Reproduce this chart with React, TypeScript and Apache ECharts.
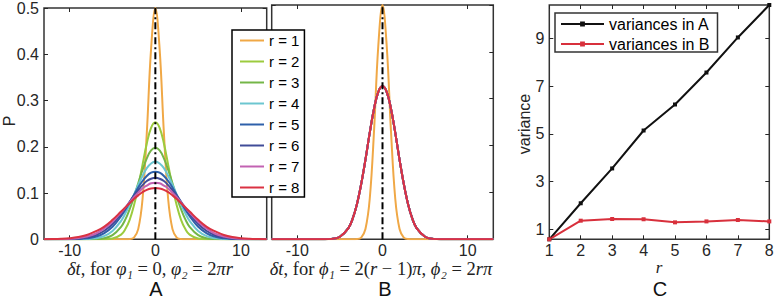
import React, { useEffect, useRef } from "react";
import * as echarts from "echarts";

// δt sample positions (shared by all curves)
const dtValues = [-13, -12, -11, -10, -9, -8, -7, -6, -5, -4, -3.5, -3, -2.5, -2, -1.5, -1, -0.5, 0, 0.5, 1, 1.5, 2, 2.5, 3, 3.5, 4, 5, 6, 7, 8, 9, 10, 11, 12, 13];

// Panel A: P(δt) for r = 1..8
const pA_r1 = [0, 0, 0, 0, 0, 0, 0, 0, 0, 0, 0, 0.0004, 0.0038, 0.022, 0.086, 0.229, 0.411, 0.5, 0.411, 0.229, 0.086, 0.022, 0.0038, 0.0004, 0, 0, 0, 0, 0, 0, 0, 0, 0, 0, 0];
const pA_r2 = [0, 0, 0, 0, 0, 0, 0, 0.0002, 0.0017, 0.01, 0.022, 0.042, 0.073, 0.114, 0.161, 0.207, 0.241, 0.253, 0.241, 0.207, 0.161, 0.114, 0.073, 0.042, 0.022, 0.01, 0.0017, 0.0002, 0, 0, 0, 0, 0, 0, 0];
const pA_r3 = [0, 0, 0, 0, 0, 0.0001, 0.0005, 0.0023, 0.009, 0.027, 0.043, 0.065, 0.091, 0.121, 0.15, 0.175, 0.192, 0.198, 0.192, 0.175, 0.15, 0.121, 0.091, 0.065, 0.043, 0.027, 0.009, 0.0023, 0.0005, 0.0001, 0, 0, 0, 0, 0];
const pA_r4 = [0, 0, 0, 0, 0.0001, 0.0006, 0.0021, 0.0068, 0.018, 0.04, 0.056, 0.075, 0.096, 0.118, 0.137, 0.154, 0.164, 0.168, 0.164, 0.154, 0.137, 0.118, 0.096, 0.075, 0.056, 0.04, 0.018, 0.0068, 0.0021, 0.0006, 0.0001, 0, 0, 0, 0];
const pA_r5 = [0, 0, 0, 0.0002, 0.0006, 0.002, 0.0054, 0.013, 0.027, 0.05, 0.064, 0.08, 0.096, 0.112, 0.126, 0.137, 0.144, 0.146, 0.144, 0.137, 0.126, 0.112, 0.096, 0.08, 0.064, 0.05, 0.027, 0.013, 0.0054, 0.002, 0.0006, 0.0002, 0, 0, 0];
const pA_r6 = [0, 0, 0.0002, 0.0005, 0.0015, 0.0038, 0.0087, 0.018, 0.033, 0.055, 0.067, 0.081, 0.094, 0.106, 0.117, 0.126, 0.131, 0.133, 0.131, 0.126, 0.117, 0.106, 0.094, 0.081, 0.067, 0.055, 0.033, 0.018, 0.0087, 0.0038, 0.0015, 0.0005, 0.0002, 0, 0];
const pA_r7 = [0, 0.0001, 0.0004, 0.0011, 0.0028, 0.0061, 0.012, 0.023, 0.038, 0.058, 0.069, 0.08, 0.091, 0.101, 0.11, 0.116, 0.121, 0.122, 0.121, 0.116, 0.11, 0.101, 0.091, 0.08, 0.069, 0.058, 0.038, 0.023, 0.012, 0.0061, 0.0028, 0.0011, 0.0004, 0.0001, 0];
const pA_r8 = [0.0002, 0.0004, 0.001, 0.0023, 0.0048, 0.0093, 0.017, 0.027, 0.042, 0.06, 0.069, 0.078, 0.087, 0.095, 0.102, 0.107, 0.11, 0.111, 0.11, 0.107, 0.102, 0.095, 0.087, 0.078, 0.069, 0.06, 0.042, 0.027, 0.017, 0.0093, 0.0048, 0.0023, 0.001, 0.0004, 0.0002];

// Panel B: r = 1 differs, r = 2..8 coincide
const pB_r1 = [0, 0, 0, 0, 0, 0, 0, 0, 0, 0, 0, 0.0004, 0.0038, 0.022, 0.086, 0.229, 0.411, 0.5, 0.411, 0.229, 0.086, 0.022, 0.0038, 0.0004, 0, 0, 0, 0, 0, 0, 0, 0, 0, 0, 0];
const pB_r2to8 = [0, 0, 0, 0, 0, 0, 0.0001, 0.0009, 0.0055, 0.024, 0.044, 0.075, 0.118, 0.17, 0.227, 0.278, 0.314, 0.327, 0.314, 0.278, 0.227, 0.17, 0.118, 0.075, 0.044, 0.024, 0.0055, 0.0009, 0.0001, 0, 0, 0, 0, 0, 0];

// Panel C: variances
const rValues = [1, 2, 3, 4, 5, 6, 7, 8];
const varA = [0.58, 2.09, 3.55, 5.14, 6.23, 7.57, 9.04, 10.4];
const varB = [0.58, 1.36, 1.43, 1.42, 1.29, 1.33, 1.39, 1.33];

// Tick labels
const dtTicks = [-10, 0, 10];
const pTicks = [0, 0.1, 0.2, 0.3, 0.4, 0.5];
const varTicks = [1, 3, 5, 7, 9];

const seriesNames = ["r = 1", "r = 2", "r = 3", "r = 4", "r = 5", "r = 6", "r = 7", "r = 8"];
const seriesColors = ["#F0A846", "#9CCB3E", "#74B648", "#6CC6D0", "#2E60AA", "#404C98", "#C262B2", "#DA3242"];

const AX = "#262626";
const SANS = "Liberation Sans";
const SERIF = "Liberation Serif";

function axis(gridIndex: number, position: string, min: number, max: number, ticks: number[] | null, showLabels: boolean, interval?: number) {
  const a: any = {
    type: "value",
    gridIndex,
    position,
    min,
    max,
    axisLine: { show: false, onZero: false },
    splitLine: { show: false },
    axisTick: { show: true, inside: true, length: 4, lineStyle: { color: AX, width: 1 } },
    axisLabel: {
      show: showLabels,
      color: AX,
      fontFamily: SANS,
      fontSize: 16,
      lineHeight: 15,
      margin: position === "bottom" ? 4 : 5,
    },
  };
  if (ticks) {
    a.axisTick.customValues = ticks;
    a.axisLabel.customValues = ticks;
  }
  if (interval !== undefined) a.interval = interval;
  return a;
}

export default function App() {
  const ref = useRef<HTMLDivElement>(null);
  useEffect(() => {
    document.body.style.margin = "0";
    const chart = echarts.init(ref.current!, null, { renderer: "svg" });
    const grids = [
      { left: 44, top: 5, width: 222.7, height: 234.3 },
      { left: 271.7, top: 5, width: 221.6, height: 234.3 },
      { left: 549.3, top: 5, width: 220, height: 234.3 },
    ].map((g) => ({ ...g, show: true, borderColor: "#333", borderWidth: 1.5, backgroundColor: "transparent" }));

    const xAxis = [
      axis(0, "bottom", -13, 13, dtTicks, true),
      axis(1, "bottom", -13, 13, dtTicks, true),
      axis(2, "bottom", 1, 8, null, true, 1),
      axis(0, "top", -13, 13, dtTicks, false),
      axis(1, "top", -13, 13, dtTicks, false),
      axis(2, "top", 1, 8, null, false, 1),
    ];
    const yAxis = [
      axis(0, "left", 0, 0.5, pTicks, true),
      axis(1, "left", 0, 0.5, pTicks, false),
      axis(2, "left", 0.58, 10.4, varTicks, true),
      axis(0, "right", 0, 0.5, pTicks, false),
      axis(1, "right", 0, 0.5, pTicks, false),
      axis(2, "right", 0.58, 10.4, varTicks, false),
    ];

    const curvesA = [pA_r1, pA_r2, pA_r3, pA_r4, pA_r5, pA_r6, pA_r7, pA_r8];
    const curvesB = [pB_r1, pB_r2to8, pB_r2to8, pB_r2to8, pB_r2to8, pB_r2to8, pB_r2to8, pB_r2to8];

    const curve = (ys: number[], i: number, gi: number) => ({
      type: "line",
      name: seriesNames[i],
      xAxisIndex: gi,
      yAxisIndex: gi,
      data: dtValues.map((x, k) => [x, ys[k]]),
      smooth: 0.4,
      symbol: "none",
      lineStyle: { color: seriesColors[i], width: 2 },
      itemStyle: { color: seriesColors[i] },
      z: 2,
    });
    const dashDot = (gi: number) => ({
      type: "line",
      name: "_center" + gi,
      xAxisIndex: gi,
      yAxisIndex: gi,
      data: [
        [0, 0],
        [0, 0.5],
      ],
      symbol: "none",
      silent: true,
      lineStyle: { color: "#000", width: 2, type: [7, 3, 2, 3] },
      z: 3,
    });

    const series: any[] = [
      ...curvesA.map((ys, i) => curve(ys, i, 0)),
      dashDot(0),
      ...curvesB.map((ys, i) => curve(ys, i, 1)),
      dashDot(1),
      {
        type: "line",
        name: "variances in A",
        xAxisIndex: 2,
        yAxisIndex: 2,
        data: rValues.map((r, k) => [r, varA[k]]),
        symbol: "rect",
        symbolSize: 4,
        lineStyle: { color: "#111", width: 2 },
        itemStyle: { color: "#111" },
      },
      {
        type: "line",
        name: "variances in B",
        xAxisIndex: 2,
        yAxisIndex: 2,
        data: rValues.map((r, k) => [r, varB[k]]),
        symbol: "rect",
        symbolSize: 4,
        lineStyle: { color: "#D8303C", width: 2 },
        itemStyle: { color: "#D8303C" },
      },
    ];

    const richSerif = {
      i: { fontFamily: SERIF, fontStyle: "italic", fontSize: 18.5, lineHeight: 16, fill: "#222" },
      n: { fontFamily: SERIF, fontSize: 18.5, lineHeight: 16, fill: "#222" },
    };

    chart.setOption({
      animation: false,
      grid: grids,
      xAxis,
      yAxis,
      series,
      legend: [
        {
          data: seriesNames.map((n) => ({ name: n, icon: "rect" })),
          orient: "vertical",
          left: 232,
          top: 30,
          itemWidth: 24,
          itemHeight: 2,
          itemGap: 6,
          padding: [3, 5, 2, 8],
          backgroundColor: "#fff",
          borderColor: "#000",
          borderWidth: 1.5,
          selectedMode: false,
          textStyle: { fontFamily: SANS, fontSize: 15, lineHeight: 15, color: "#000" },
        },
        {
          data: ["variances in A", "variances in B"],
          orient: "vertical",
          left: 555,
          top: 13,
          itemWidth: 43,
          itemHeight: 6,
          itemGap: 4,
          padding: [3, 8, 0, 5],
          backgroundColor: "#fff",
          borderColor: "#333",
          borderWidth: 1.5,
          selectedMode: false,
          textStyle: { fontFamily: SANS, fontSize: 16, lineHeight: 15, color: "#000" },
        },
      ],
      graphic: [
        {
          type: "text",
          x: 9,
          y: 121,
          rotation: Math.PI / 2,
          style: { text: "P", font: `16px "${SANS}"`, fill: AX, align: "center", verticalAlign: "middle" },
        },
        {
          type: "text",
          x: 524,
          y: 124,
          rotation: Math.PI / 2,
          style: { text: "variance", font: `16px "${SANS}"`, fill: AX, align: "center", verticalAlign: "middle" },
        },
        {
          type: "text",
          x: 150,
          y: 269,
          style: {
            text: "{i|δt}{n|, for }{i|φ₁}{n| = 0, }{i|φ₂}{n| = 2}{i|πr}",
            rich: richSerif,
            align: "center",
            verticalAlign: "middle",
          },
        },
        {
          type: "text",
          x: 381,
          y: 269,
          style: {
            text: "{i|δt}{n|, for }{i|ϕ₁}{n| = 2(}{i|r}{n| − 1)}{i|π}{n|, }{i|ϕ₂}{n| = 2}{i|rπ}",
            rich: richSerif,
            align: "center",
            verticalAlign: "middle",
          },
        },
        {
          type: "text",
          x: 659,
          y: 267,
          style: { text: "r", font: `italic 17px "${SERIF}"`, lineHeight: 11, fill: "#222", align: "center", verticalAlign: "middle" },
        },
        {
          type: "text",
          x: 156,
          y: 289,
          style: { text: "A", font: `20px "${SANS}"`, lineHeight: 18, fill: "#111", align: "center", verticalAlign: "middle" },
        },
        {
          type: "text",
          x: 385,
          y: 289,
          style: { text: "B", font: `20px "${SANS}"`, lineHeight: 18, fill: "#111", align: "center", verticalAlign: "middle" },
        },
        {
          type: "text",
          x: 660,
          y: 289,
          style: { text: "C", font: `20px "${SANS}"`, lineHeight: 18, fill: "#111", align: "center", verticalAlign: "middle" },
        },
      ],
    });
    return () => chart.dispose();
  }, []);
  return <div ref={ref} style={{ width: 777, height: 300 }} />;
}
